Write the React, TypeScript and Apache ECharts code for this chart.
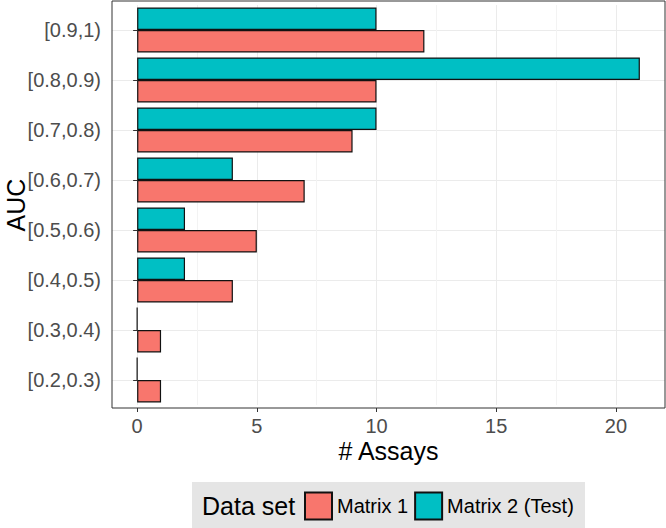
import React, { useEffect, useRef } from "react";
import * as echarts from "echarts";

const categories = ["[0.2,0.3)", "[0.3,0.4)", "[0.4,0.5)", "[0.5,0.6)", "[0.6,0.7)", "[0.7,0.8)", "[0.8,0.9)", "[0.9,1)"];
const matrix1 = [1, 1, 4, 5, 7, 9, 10, 12];
const matrix2 = [0, 0, 2, 2, 4, 10, 21, 10];
const xTicks = [0, 5, 10, 15, 20];
const seriesNames = ["Matrix 1", "Matrix 2 (Test)"];
const legendTitle = "Data set";
const xTitle = "# Assays";
const yTitle = "AUC";

const FONT = "'Liberation Sans', Arial, Helvetica, sans-serif";

export default function App() {
  const ref = useRef<HTMLDivElement>(null);
  useEffect(() => {
    const chart = echarts.init(ref.current!, null, { renderer: "svg" });
    const barStyle = (color: string) => ({ color, borderColor: "#111", borderWidth: 1.2 });
    chart.setOption({
      animation: false,
      textStyle: { fontFamily: FONT },
      grid: { left: 112, top: 5, width: 553, height: 400, containLabel: false, outerBoundsMode: "none" },
      xAxis: {
        type: "value",
        min: -1.05,
        max: 22.05,
        offset: 3,
        axisLine: { show: false },
        axisTick: { show: true, length: 4, customValues: xTicks, lineStyle: { color: "#333", width: 1 } },
        axisLabel: { customValues: xTicks, fontSize: 20, color: "#4D4D4D", margin: 8, fontFamily: FONT },
        splitLine: { show: true, lineStyle: { color: "#EBEBEB", width: 1 } },
        minorTick: { show: false, splitNumber: 2 },
        minorSplitLine: { show: true, lineStyle: { color: "#F3F3F3", width: 1 } },
        name: xTitle,
        nameLocation: "middle",
        nameGap: 30,
        nameMoveOverlap: false,
        nameTextStyle: { fontSize: 25, color: "#000", fontFamily: FONT },
      },
      yAxis: {
        type: "category",
        data: categories,
        axisLine: { show: false },
        axisTick: { show: true, length: 4, alignWithLabel: true, lineStyle: { color: "#333", width: 1 } },
        axisLabel: { fontSize: 20, color: "#4D4D4D", margin: 11, fontFamily: FONT },
        splitLine: { show: true, alignWithLabel: true, lineStyle: { color: "#EBEBEB", width: 1 } },
        name: yTitle,
        nameLocation: "middle",
        nameRotate: 90,
        nameGap: 84,
        nameMoveOverlap: false,
        nameTextStyle: { fontSize: 25, color: "#000", fontFamily: FONT },
      },
      legend: {
        data: seriesNames,
        left: 304,
        top: 491.5,
        padding: 0,
        itemWidth: 27,
        itemHeight: 27,
        itemGap: 6,
        icon: "rect",
        textStyle: { fontSize: 20, color: "#000", fontFamily: FONT },
      },
      graphic: [
        { type: "rect", z: 0, shape: { x: 192, y: 482, width: 393, height: 46 }, style: { fill: "#E5E5E5" } },
        {
          type: "text", z: 1, x: 202, y: 506,
          style: { text: legendTitle, fontSize: 25, fill: "#000", fontFamily: FONT, verticalAlign: "middle", align: "left" },
        },
        {
          type: "rect", z: 100, shape: { x: 112, y: 1, width: 553, height: 407 },
          style: { fill: "none", stroke: "#333", lineWidth: 1 },
        },
      ],
      series: [
        { name: seriesNames[1], type: "bar", data: matrix2, barCategoryGap: "10%", barGap: "0%", itemStyle: barStyle("#00BFC4") },
        { name: seriesNames[0], type: "bar", data: matrix1, barCategoryGap: "10%", barGap: "0%", itemStyle: barStyle("#F8766D") },
      ],
    });
    return () => chart.dispose();
  }, []);
  return <div ref={ref} style={{ width: 666, height: 528, position: "absolute", left: 0, top: 0 }} />;
}
